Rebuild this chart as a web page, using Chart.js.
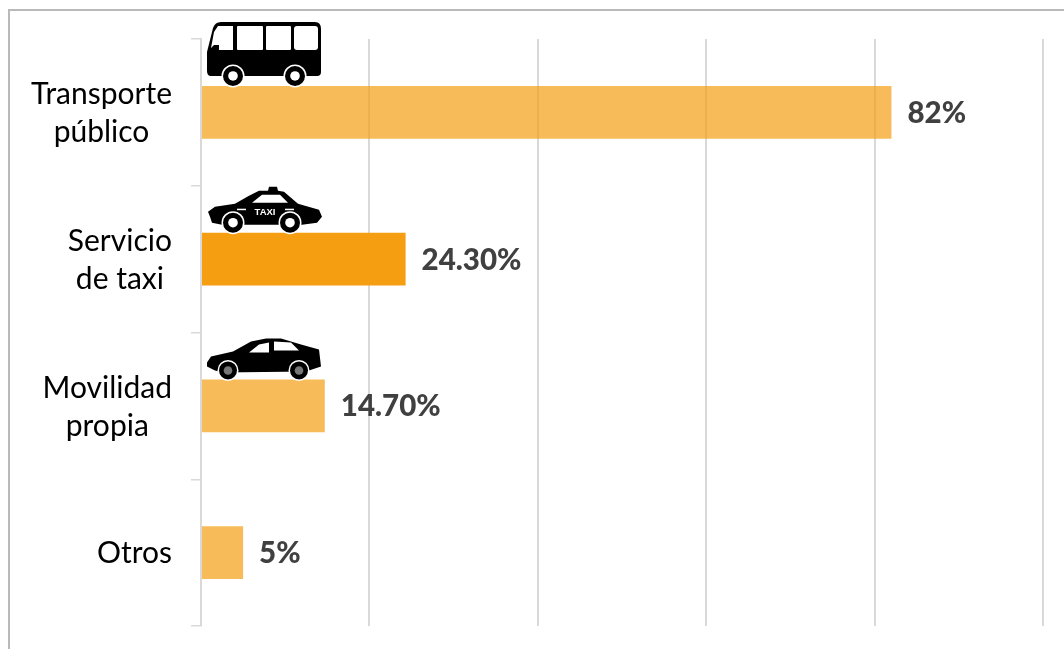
<!DOCTYPE html>
<html>
<head>
<meta charset="utf-8">
<title>Transporte</title>
<script src="https://cdn.jsdelivr.net/npm/chart.js@4"></script>
<style>
    html, body { margin: 0; background: #fff; overflow: hidden; }
    #frame { position: absolute; left: 8px; top: 9px; right: 0; bottom: 0; border-left: 2px solid #b9b9b9; border-top: 2px solid #b9b9b9; }
    #chart { position: absolute; left: 0; top: 0; }
</style>
</head>
<body>
<div id="frame"></div>
<canvas id="chart" width="1064" height="649"></canvas>
<script>
const categories = [['Transporte', 'público'], ['Servicio', 'de taxi'], ['Movilidad', 'propia'], ['Otros']];
const values = [82, 24.3, 14.7, 5];
const valueLabels = ['82%', '24.30%', '14.70%', '5%'];
const barColors = ['rgba(245,158,18,0.7)', '#f59e12', 'rgba(245,158,18,0.7)', 'rgba(245,158,18,0.7)'];
const icons = ['bus', 'taxi', 'car', null];

const LABEL_FONT = '30px Lato';
const VALUE_FONT = '900 29.5px Lato';

// --- Pictograms, drawn with their origin at the top left corner of the bar ---
function wheel(ctx, x, y, r, hub) {
    ctx.fillStyle = '#fff';
    ctx.beginPath(); ctx.arc(x, y, r + 1.5, 0, Math.PI * 2); ctx.fill();
    ctx.fillStyle = '#000';
    ctx.beginPath(); ctx.arc(x, y, r, 0, Math.PI * 2); ctx.fill();
    ctx.fillStyle = hub || '#fff';
    ctx.beginPath(); ctx.arc(x, y, r * 0.48, 0, Math.PI * 2); ctx.fill();
}

function outline(ctx, pts) {
    ctx.beginPath();
    pts.forEach((p, i) => i ? ctx.lineTo(p[0], p[1]) : ctx.moveTo(p[0], p[1]));
    ctx.closePath();
    ctx.fill();
}

const drawIcon = {
    bus(ctx) {
        ctx.fillStyle = '#000';
        ctx.beginPath();
        ctx.moveTo(19, -64);
        ctx.lineTo(113, -64);
        ctx.quadraticCurveTo(119, -64, 119, -57);
        ctx.lineTo(119, -14);
        ctx.quadraticCurveTo(119, -10, 115, -10);
        ctx.lineTo(9, -10);
        ctx.quadraticCurveTo(5, -10, 5, -15);
        ctx.lineTo(5, -34);
        ctx.lineTo(11, -58);
        ctx.quadraticCurveTo(13, -64, 19, -64);
        ctx.fill();
        ctx.fillStyle = '#fff';
        outline(ctx, [[16, -60], [31, -60], [31, -36], [17, -36], [17, -41], [12, -41], [9, -38], [12, -54]]);
        ctx.beginPath(); ctx.roundRect(35, -60, 26, 24, 1); ctx.fill();
        ctx.beginPath(); ctx.roundRect(64, -60, 25, 24, 1); ctx.fill();
        ctx.beginPath(); ctx.roundRect(92, -60, 24, 24, 3); ctx.fill();
        wheel(ctx, 31, -10, 10);
        wheel(ctx, 93, -10, 10);
    },
    taxi(ctx) {
        ctx.fillStyle = '#000';
        outline(ctx, [[6, -21], [13, -26], [33, -29], [47, -37], [57, -42], [66, -42], [67, -46], [75, -46], [76, -42],
            [82, -41], [96, -29], [117, -23], [120, -16], [115, -10], [100, -8], [20, -8], [10, -10], [8, -16]]);
        ctx.fillStyle = '#fff';
        outline(ctx, [[50, -30], [60, -38], [78, -38], [86, -30]]);
        ctx.font = 'bold 9.5px "Liberation Sans"';
        ctx.textAlign = 'center';
        ctx.textBaseline = 'middle';
        ctx.fillText('TAXI', 63, -20);
        ctx.fillRect(35, -24, 9, 1.5);
        ctx.fillRect(83, -24, 9, 1.5);
        wheel(ctx, 31, -10, 10);
        wheel(ctx, 88, -10, 10);
    },
    car(ctx) {
        ctx.fillStyle = '#000';
        outline(ctx, [[5, -17], [9, -23], [31, -28], [49, -38], [64, -41], [79, -41], [99, -35], [117, -30], [119, -13],
            [104, -8], [20, -7], [13, -9], [5, -13]]);
        ctx.fillStyle = '#fff';
        outline(ctx, [[47, -27], [57, -35], [67, -37], [67, -27]]);
        outline(ctx, [[72, -38], [89, -37], [97, -29], [72, -29]]);
        wheel(ctx, 26, -9, 9, '#777');
        wheel(ctx, 97, -9, 9, '#777');
    }
};

// --- Category labels, value labels and pictograms ---
const annotations = {
    id: 'annotations',
    afterDatasetsDraw(chart) {
        const { ctx, scales } = chart;
        const bars = chart.getDatasetMeta(0).data;
        ctx.save();

        // category labels: lines centred on each other, block ends at x = 172
        ctx.font = LABEL_FONT;
        ctx.fillStyle = '#000';
        ctx.textAlign = 'center';
        ctx.textBaseline = 'middle';
        categories.forEach((lines, i) => {
            const widest = Math.max(...lines.map(l => ctx.measureText(l).width));
            const cx = scales.y.left + scales.y.width - 29 - widest / 2;
            const cy = scales.y.getPixelForValue(i) - (lines.length - 1) * 19;
            lines.forEach((l, j) => ctx.fillText(l, cx, cy + j * 38 + 1));
        });

        // value labels
        ctx.font = VALUE_FONT;
        ctx.fillStyle = '#404040';
        ctx.textAlign = 'left';
        bars.forEach((bar, i) => ctx.fillText(valueLabels[i], bar.x + 16, bar.y + 1));

        // pictograms
        bars.forEach((bar, i) => {
            if (!icons[i]) return;
            ctx.save();
            ctx.translate(bar.base, bar.y - bar.height / 2);
            drawIcon[icons[i]](ctx);
            ctx.restore();
        });
        ctx.restore();
    }
};

new Chart(document.getElementById('chart'), {
    type: 'bar',
    data: {
        labels: categories,
        datasets: [{
            data: values,
            backgroundColor: barColors,
            barPercentage: 0.36,
            categoryPercentage: 1
        }]
    },
    options: {
        indexAxis: 'y',
        responsive: false,
        animation: false,
        layout: { padding: { left: 0, right: 21, top: 39, bottom: 23 } },
        plugins: { legend: { display: false }, tooltip: { enabled: false } },
        scales: {
            x: {
                min: 0,
                max: 100,
                ticks: { stepSize: 20, display: false },
                grid: { color: '#d9d9d9', lineWidth: 2, drawTicks: false },
                border: { display: false }
            },
            y: {
                afterFit(scale) { scale.width = 201; },
                ticks: { display: false },
                grid: { color: '#d9d9d9', lineWidth: 1.5, drawOnChartArea: false, tickLength: 10 },
                border: { display: true, color: '#d9d9d9', width: 2 }
            }
        }
    },
    plugins: [annotations]
});
</script>
</body>
</html>
